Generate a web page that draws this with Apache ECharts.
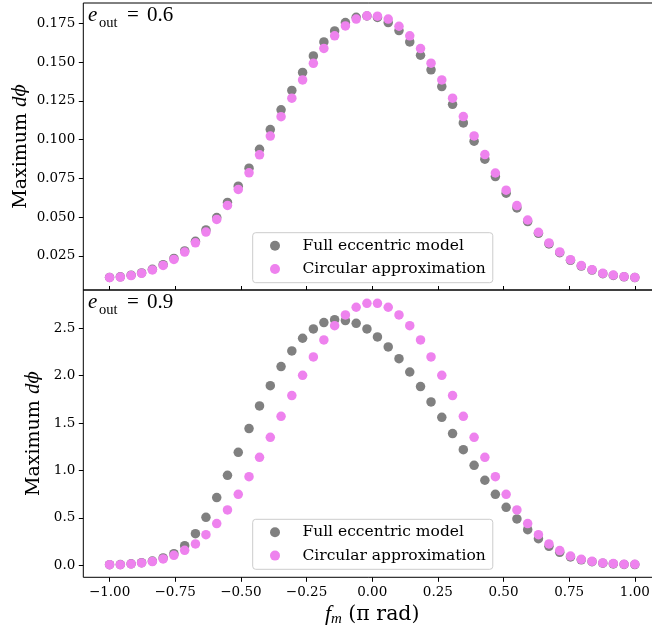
<!DOCTYPE html>
<html>
<head>
<meta charset="utf-8">
<script src="https://cdn.jsdelivr.net/npm/echarts@6/dist/echarts.min.js"></script>
<style>html,body{margin:0;padding:0;background:#fff;}#c{width:652px;height:629px;}</style>
</head>
<body>
<div id="c"></div>
<script>
// f_m values (units of pi rad)
var fm = [-1.000,-0.959,-0.918,-0.878,-0.837,-0.796,-0.755,-0.714,-0.673,-0.633,
          -0.592,-0.551,-0.510,-0.469,-0.429,-0.388,-0.347,-0.306,-0.265,-0.224,
          -0.184,-0.143,-0.102,-0.061,-0.020, 0.020, 0.061, 0.102, 0.143, 0.184,
           0.224, 0.265, 0.306, 0.347, 0.388, 0.429, 0.469, 0.510, 0.551, 0.592,
           0.633, 0.673, 0.714, 0.755, 0.796, 0.837, 0.878, 0.918, 0.959, 1.000];

// e_out = 0.6
var fullE06 = [0.0112,0.0116,0.0126,0.0141,0.0164,0.0194,0.0234,0.0283,0.0345,0.0418,
               0.0498,0.0595,0.0700,0.0816,0.0938,0.1065,0.1192,0.1317,0.1433,0.1540,
               0.1630,0.1701,0.1755,0.1789,0.1797,0.1788,0.1755,0.1703,0.1630,0.1544,
               0.1450,0.1342,0.1228,0.1108,0.0990,0.0874,0.0762,0.0655,0.0560,0.0472,
               0.0396,0.0328,0.0271,0.0222,0.0185,0.0159,0.0136,0.0125,0.0116,0.0111];
var circE06 = [0.0111,0.0114,0.0124,0.0138,0.0160,0.0189,0.0228,0.0275,0.0335,0.0404,
               0.0486,0.0576,0.0679,0.0786,0.0902,0.1023,0.1148,0.1267,0.1385,0.1492,
               0.1588,0.1669,0.1733,0.1777,0.1798,0.1796,0.1777,0.1731,0.1669,0.1587,
               0.1493,0.1385,0.1267,0.1149,0.1024,0.0904,0.0785,0.0674,0.0575,0.0482,
               0.0403,0.0334,0.0276,0.0226,0.0188,0.0162,0.0138,0.0127,0.0117,0.0112];

// e_out = 0.9
var fullE09 = [0.007,0.008,0.016,0.028,0.045,0.078,0.123,0.207,0.334,0.506,
               0.714,0.949,1.192,1.442,1.681,1.895,2.096,2.261,2.395,2.493,
               2.560,2.591,2.581,2.553,2.493,2.409,2.303,2.180,2.039,1.885,
               1.723,1.561,1.389,1.220,1.055,0.897,0.749,0.612,0.489,0.376,
               0.281,0.200,0.137,0.088,0.058,0.038,0.022,0.015,0.009,0.008];
var circE09 = [0.007,0.007,0.014,0.025,0.039,0.067,0.105,0.158,0.225,0.323,
               0.440,0.584,0.749,0.935,1.139,1.350,1.572,1.790,2.004,2.198,
               2.377,2.528,2.641,2.722,2.764,2.764,2.722,2.641,2.528,2.377,
               2.198,2.004,1.790,1.572,1.350,1.139,0.935,0.749,0.584,0.440,
               0.323,0.225,0.155,0.098,0.063,0.042,0.025,0.018,0.011,0.011];

// tick values
var xTicks = [-1.00,-0.75,-0.50,-0.25,0.00,0.25,0.50,0.75,1.00];
var yTicksTop = [0.025,0.050,0.075,0.100,0.125,0.150,0.175];
var yTicksBottom = [0.0,0.5,1.0,1.5,2.0,2.5];

var seriesNames = ['Full eccentric model','Circular approximation'];
var panelLabels = ['0.6','0.9'];

function pairs(xs, ys){ return xs.map(function(x,i){ return [x, ys[i]]; }); }
function minus(s){ return s.replace('-', '\u2212'); }

var SERIF = 'DejaVu Serif';
var MATH = 'Liberation Serif';
var tickFont = {fontFamily: SERIF, fontSize: 13.5, color: '#000'};

function yName(){
  return {
    name: '{a|Maximum }{b|d}{c|\u03d5}',
    nameLocation: 'middle',
    nameRotate: 90,
    nameMoveOverlap: false,
    nameTextStyle: {
      rich: {
        a: {fontFamily: SERIF, fontSize: 19, color: '#000'},
        b: {fontFamily: MATH, fontStyle: 'italic', fontSize: 21, color: '#000'},
        c: {fontFamily: "'DejaVu Serif'", fontStyle: 'italic', fontSize: 18, color: '#000'}
      }
    }
  };
}

var chart = echarts.init(document.getElementById('c'), null, {renderer: 'canvas'});

var legendCommon = {
  orient: 'vertical',
  data: seriesNames,
  icon: 'circle',
  itemWidth: 20,
  itemHeight: 10,
  itemGap: 7.3,
  padding: [5, 7, 5.7, 17.3],
  borderColor: '#cccccc',
  borderWidth: 1,
  borderRadius: 3,
  backgroundColor: 'rgba(255,255,255,0.8)',
  textStyle: {fontFamily: SERIF, fontSize: 15.5, color: '#000', lineHeight: 16, padding: [0,0,0,12.4]}
};

var y0 = yName();
var y1 = yName();

var option = {
  animation: false,
  backgroundColor: '#fff',
  grid: [
    {left: 83.3, top: 3, width: 577.8, height: 287, show: true, borderColor: '#000', borderWidth: 1, backgroundColor: 'transparent', outerBoundsMode: 'none'},
    {left: 83.3, top: 290, width: 577.8, height: 287.3, show: true, borderColor: '#000', borderWidth: 1, backgroundColor: 'transparent', outerBoundsMode: 'none'}
  ],
  xAxis: [
    {
      type: 'value', gridIndex: 0, min: -1.1, max: 1.1,
      axisLine: {show: false, onZero: false},
      axisTick: {show: true, inside: true, length: 4, lineStyle: {color: '#000'}, customValues: xTicks},
      axisLabel: {show: false, customValues: xTicks},
      splitLine: {show: false}
    },
    {
      type: 'value', gridIndex: 1, min: -1.1, max: 1.1,
      axisLine: {show: false, onZero: false},
      axisTick: {show: true, length: 4.5, lineStyle: {color: '#000'}, customValues: xTicks},
      axisLabel: Object.assign({margin: 8, customValues: xTicks, formatter: function(v){ return minus(v.toFixed(2)); }}, tickFont),
      splitLine: {show: false},
      name: '{f|f}{m|m}{r| (\u03c0 rad)}',
      nameLocation: 'middle',
      nameGap: 25,
      nameMoveOverlap: false,
      nameTextStyle: {
        rich: {
          f: {fontFamily: MATH, fontStyle: 'italic', fontSize: 22, color: '#000', lineHeight: 24},
          m: {fontFamily: MATH, fontStyle: 'italic', fontSize: 15, color: '#000', lineHeight: 12, verticalAlign: 'bottom'},
          r: {fontFamily: SERIF, fontSize: 20.5, color: '#000', lineHeight: 24}
        }
      }
    }
  ],
  yAxis: [
    Object.assign(y0, {
      type: 'value', gridIndex: 0, min: 0.00308, max: 0.18809,
      nameGap: 52,
      axisLine: {show: false, onZero: false},
      axisTick: {show: true, length: 4.5, lineStyle: {color: '#000'}, customValues: yTicksTop},
      axisLabel: Object.assign({margin: 8, customValues: yTicksTop, formatter: function(v){ return v.toFixed(3); }}, tickFont),
      splitLine: {show: false}
    }),
    Object.assign(y1, {
      type: 'value', gridIndex: 1, min: -0.1266, max: 2.904,
      nameGap: 39,
      axisLine: {show: false, onZero: false},
      axisTick: {show: true, length: 4.5, lineStyle: {color: '#000'}, customValues: yTicksBottom},
      axisLabel: Object.assign({margin: 8, customValues: yTicksBottom, formatter: function(v){ return v.toFixed(1); }}, tickFont),
      splitLine: {show: false}
    })
  ],
  legend: [
    Object.assign({left: 252.7, top: 232.7}, legendCommon),
    Object.assign({left: 252.7, top: 519.3}, legendCommon)
  ],
  graphic: [],
  series: [
    {type: 'scatter', name: seriesNames[0], xAxisIndex: 0, yAxisIndex: 0, data: pairs(fm, fullE06), symbolSize: 9.5, itemStyle: {color: '#808080', opacity: 1}},
    {type: 'scatter', name: seriesNames[1], xAxisIndex: 0, yAxisIndex: 0, data: pairs(fm, circE06), symbolSize: 9.5, itemStyle: {color: '#ee82ee', opacity: 1}},
    {type: 'scatter', name: seriesNames[0], xAxisIndex: 1, yAxisIndex: 1, data: pairs(fm, fullE09), symbolSize: 9.5, itemStyle: {color: '#808080', opacity: 1}},
    {type: 'scatter', name: seriesNames[1], xAxisIndex: 1, yAxisIndex: 1, data: pairs(fm, circE09), symbolSize: 9.5, itemStyle: {color: '#ee82ee', opacity: 1}}
  ]
};

// panel annotations e_out = ...
[[0, 0], [1, 287]].forEach(function(p){
  var dy = p[1];
  var lab = panelLabels[p[0]];
  option.graphic.push(
    {type: 'text', x: 88, y: 15.3 + dy, style: {text: 'e', fontFamily: MATH, fontStyle: 'italic', fontSize: 21, fill: '#000', verticalAlign: 'middle'}},
    {type: 'text', x: 99, y: 23 + dy, style: {text: 'out', fontFamily: MATH, fontSize: 14.5, fill: '#000', verticalAlign: 'middle'}},
    {type: 'text', x: 127, y: 15.3 + dy, style: {text: '=', fontFamily: MATH, fontSize: 21, fill: '#000', verticalAlign: 'middle'}},
    {type: 'text', x: 147, y: 15.3 + dy, style: {text: lab, fontFamily: MATH, fontSize: 21, fill: '#000', verticalAlign: 'middle'}}
  );
});

chart.setOption(option);
</script>
</body>
</html>
